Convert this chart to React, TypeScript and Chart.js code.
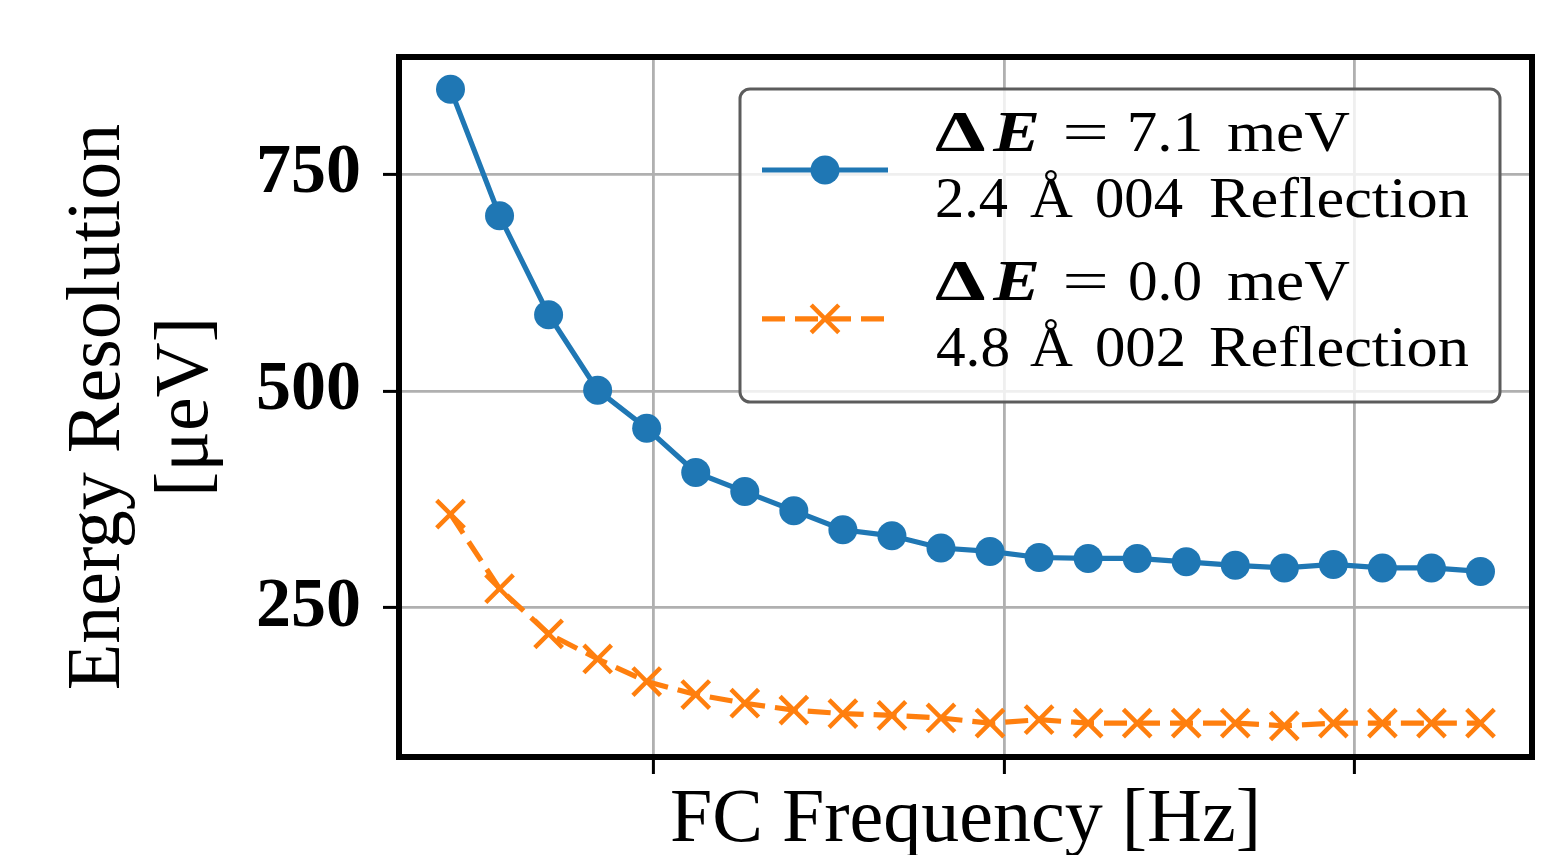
import React, { useEffect, useRef } from 'react';
import { Chart, registerables } from 'chart.js';

Chart.register(...registerables);

// ---------- data ----------
const frequencies = [21, 28, 35, 42, 49, 56, 63, 70, 77, 84, 91, 98, 105, 112, 119, 126, 133, 140, 147, 154, 161, 168];
const resolution71 = [848, 702, 588, 501, 457, 406, 384, 362, 340, 333, 319, 315, 308, 307, 307, 303, 299, 296, 300, 296, 296, 292];
const resolution00 = [358, 272, 220, 191, 165, 150, 140, 132, 128, 126, 123, 117, 121, 117, 117, 117, 117, 114, 117, 117, 117, 117];
const xTicks = [50, 100, 150];
const yTicks = [250, 500, 750];
const deltaE = ['7.1', '0.0'];
const wavelengths = ['2.4', '4.8'];
const reflections = ['004', '002'];
const xTitle = 'FC Frequency [Hz]';
const yTitle = ['Energy Resolution', '[μeV]'];

// ---------- styles ----------
const BLUE = '#1f77b4';
const ORANGE = '#ff7f0e';
const SERIF = "'Liberation Serif', 'Times New Roman', serif";

function roundRectPath(ctx: CanvasRenderingContext2D, x: number, y: number, w: number, h: number, r: number) {
  ctx.beginPath();
  ctx.moveTo(x + r, y);
  ctx.arcTo(x + w, y, x + w, y + h, r);
  ctx.arcTo(x + w, y + h, x, y + h, r);
  ctx.arcTo(x, y + h, x, y, r);
  ctx.arcTo(x, y, x + w, y, r);
  ctx.closePath();
}

function drawToken(ctx: CanvasRenderingContext2D, text: string, font: string, x: number, y: number, targetW: number) {
  ctx.font = font;
  const m = ctx.measureText(text);
  const ink = m.actualBoundingBoxLeft + m.actualBoundingBoxRight;
  const s = ink > 0 ? targetW / ink : 1;
  ctx.save();
  ctx.translate(x + m.actualBoundingBoxLeft * s, y);
  ctx.scale(s, 1);
  ctx.fillText(text, 0, 0);
  ctx.restore();
}

const framePlugin = {
  id: 'axesFrame',
  afterDatasetsDraw(chart: any) {
    const { ctx, chartArea } = chart;
    const { left, top, right, bottom } = chartArea;
    ctx.save();
    ctx.strokeStyle = '#000';
    ctx.lineWidth = 6;
    ctx.lineJoin = 'miter';
    ctx.strokeRect(left, top, right - left, bottom - top);
    ctx.restore();
  },
};

const legendPlugin = {
  id: 'innerLegend',
  afterDraw(chart: any) {
    const ctx: CanvasRenderingContext2D = chart.ctx;
    const bx = 740, by = 89, bw = 760, bh = 313;
    ctx.save();
    roundRectPath(ctx, bx, by, bw, bh, 10);
    ctx.fillStyle = 'rgba(255,255,255,0.8)';
    ctx.fill();
    ctx.lineWidth = 3;
    ctx.strokeStyle = '#5c5c5c';
    ctx.stroke();

    const regular = `58px ${SERIF}`;
    const bold = `bold 58px ${SERIF}`;
    const boldItalic = `italic bold 58px ${SERIF}`;
    const textX = 935;

    chart.data.datasets.forEach((ds: any, i: number) => {
      const off = i * 148.8;
      const hy = by + 81 + off;
      ctx.save();
      ctx.strokeStyle = ds.borderColor;
      ctx.lineWidth = ds.borderWidth;
      ctx.setLineDash(ds.borderDash || []);
      ctx.beginPath();
      ctx.moveTo(bx + 22, hy);
      ctx.lineTo(bx + 148, hy);
      ctx.stroke();
      ctx.setLineDash([]);
      const mx = bx + 85;
      if (ds.pointStyle === 'circle') {
        ctx.fillStyle = ds.pointBackgroundColor;
        ctx.beginPath();
        ctx.arc(mx, hy, ds.pointRadius, 0, Math.PI * 2);
        ctx.fill();
      } else {
        const h = ds.pointRadius * Math.SQRT1_2;
        ctx.strokeStyle = ds.pointBorderColor;
        ctx.lineWidth = ds.pointBorderWidth;
        ctx.beginPath();
        ctx.moveTo(mx - h, hy - h);
        ctx.lineTo(mx + h, hy + h);
        ctx.moveTo(mx + h, hy - h);
        ctx.lineTo(mx - h, hy + h);
        ctx.stroke();
      }
      ctx.restore();

      ctx.fillStyle = '#000';
      ctx.textBaseline = 'alphabetic';
      ctx.textAlign = 'left';
      const y1 = by + 62 + off;
      const y2 = by + 127.7 + off;
      drawToken(ctx, 'Δ', bold, textX, y1, 50);
      drawToken(ctx, 'E', boldItalic, textX + 57, y1, 46);
      drawToken(ctx, '=', regular, textX + 130, y1, 40);
      drawToken(ctx, deltaE[i], regular, textX + 195, y1, 70);
      drawToken(ctx, 'meV', regular, textX + 293, y1, 122);
      drawToken(ctx, wavelengths[i], regular, textX + 2, y2, 71);
      drawToken(ctx, 'Å', regular, textX + 95, y2, 43);
      drawToken(ctx, reflections[i], regular, textX + 162, y2, 86);
      drawToken(ctx, 'Reflection', regular, textX + 275, y2, 259);
    });
    ctx.restore();
  },
};

export default function App() {
  const canvasRef = useRef<HTMLCanvasElement | null>(null);

  useEffect(() => {
    const canvas = canvasRef.current;
    if (!canvas) return;

    const chart = new Chart(canvas, {
      type: 'line',
      data: {
        datasets: [
          {
            label: `ΔE = ${deltaE[0]} meV ${wavelengths[0]} Å ${reflections[0]} Reflection`,
            data: frequencies.map((f, i) => ({ x: f, y: resolution71[i] })),
            borderColor: BLUE,
            backgroundColor: BLUE,
            borderWidth: 5.2,
            pointStyle: 'circle',
            pointRadius: 14.5,
            pointBackgroundColor: BLUE,
            pointBorderColor: BLUE,
            pointBorderWidth: 0,
            tension: 0,
            fill: false,
          },
          {
            label: `ΔE = ${deltaE[1]} meV ${wavelengths[1]} Å ${reflections[1]} Reflection`,
            data: frequencies.map((f, i) => ({ x: f, y: resolution00[i] })),
            borderColor: ORANGE,
            backgroundColor: ORANGE,
            borderWidth: 5.2,
            borderDash: [23, 10],
            pointStyle: 'crossRot',
            pointRadius: 19.5,
            pointBackgroundColor: ORANGE,
            pointBorderColor: ORANGE,
            pointBorderWidth: 4.5,
            tension: 0,
            fill: false,
          },
        ],
      },
      options: {
        animation: false,
        responsive: false,
        events: [],
        layout: { padding: { left: 0, top: 57, right: 28, bottom: 0 } },
        plugins: {
          legend: { display: false },
          tooltip: { enabled: false },
        },
        scales: {
          x: {
            type: 'linear',
            min: 13.65,
            max: 175.35,
            afterBuildTicks: (scale: any) => {
              scale.ticks = xTicks.map((v) => ({ value: v }));
            },
            afterFit: (scale: any) => {
              scale.height = 98;
            },
            ticks: { display: false, autoSkip: false },
            grid: {
              color: '#b0b0b0',
              lineWidth: 2.8,
              drawTicks: true,
              tickLength: 17,
              tickColor: '#000',
              tickWidth: 3,
            },
            border: { display: false },
            title: {
              display: true,
              text: xTitle,
              color: '#000',
              font: { family: SERIF, size: 76, lineHeight: 0.6 },
              padding: { top: 0, bottom: 11 },
            },
          },
          y: {
            type: 'linear',
            min: 78,
            max: 885.1,
            afterBuildTicks: (scale: any) => {
              scale.ticks = yTicks.map((v) => ({ value: v }));
            },
            afterFit: (scale: any) => {
              scale.width = 399;
            },
            ticks: {
              autoSkip: false,
              color: '#000',
              padding: 22,
              font: { family: SERIF, size: 70, weight: 'bold', lineHeight: 0.9 },
            },
            grid: {
              color: '#b0b0b0',
              lineWidth: 2.8,
              drawTicks: true,
              tickLength: 16,
              tickColor: '#000',
              tickWidth: 3,
            },
            border: { display: false },
            title: {
              display: true,
              text: yTitle,
              color: '#000',
              font: { family: SERIF, size: 76, lineHeight: 1.158 },
              padding: { top: 55.4, bottom: 0 },
            },
          },
        },
      },
      plugins: [framePlugin, legendPlugin],
    } as any);

    return () => {
      chart.destroy();
    };
  }, []);

  return (
    <div style={{ position: 'fixed', left: 0, top: 0, width: 1560, height: 855, background: '#fff' }}>
      <canvas ref={canvasRef} width={1560} height={855} style={{ display: 'block' }} />
    </div>
  );
}
